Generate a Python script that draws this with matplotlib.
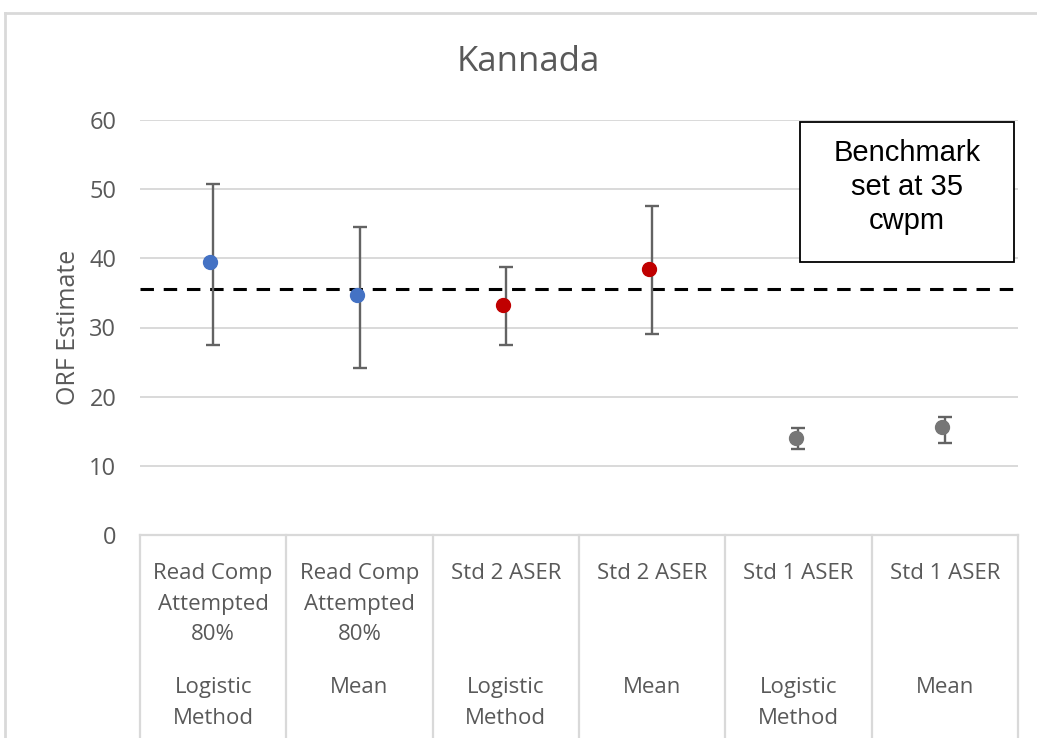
import numpy as np
import matplotlib
matplotlib.use("Agg")
import matplotlib.pyplot as plt
from matplotlib.lines import Line2D
from matplotlib.patches import Rectangle
from matplotlib.transforms import blended_transform_factory

# data
level1 = ["Read Comp\nAttempted\n80%", "Read Comp\nAttempted\n80%",
          "Std 2 ASER", "Std 2 ASER", "Std 1 ASER", "Std 1 ASER"]
level2 = ["Logistic\nMethod", "Mean", "Logistic\nMethod", "Mean",
          "Logistic\nMethod", "Mean"]
estimate = [39.4, 34.7, 33.3, 38.5, 14.0, 15.6]
upper = [50.8, 44.6, 38.7, 47.5, 15.5, 17.1]
lower = [27.5, 24.1, 27.4, 29.1, 12.5, 13.3]
point_colors = ["#4472C4", "#4472C4", "#C00000", "#C00000", "#767676", "#767676"]
benchmark = 35.5

W, H = 1037, 738
fig = plt.figure(figsize=(W / 100, H / 100), dpi=100)
ax = fig.add_axes([140 / W, 1 - 535 / H, 878 / W, 415 / H])

font = "Open Sans"
txt_gray = "#595959"
grid_gray = "#D9D9D9"

x = np.arange(len(estimate))
est = np.array(estimate)
err = [est - np.array(lower), np.array(upper) - est]

ax.errorbar(x, est, yerr=err, fmt="none", ecolor="#636363", elinewidth=1.7,
            capsize=5.2, capthick=1.7, zorder=3)
for xi, yi, c in zip(x, est, point_colors):
    ax.plot(xi - 0.02, yi, "o", color=c, markersize=10, zorder=4)

ax.axhline(benchmark, color="black", lw=2.2, linestyle=(0, (4.4, 3.2)), zorder=2)

ax.set_xlim(-0.5, len(estimate) - 0.5)
ax.set_ylim(0, 60)
ax.set_yticks(range(0, 61, 10))
ax.yaxis.grid(True, color=grid_gray, lw=1.4)
ax.set_axisbelow(True)
ax.tick_params(axis="y", length=0, pad=17, labelsize=17, labelcolor=txt_gray)
ax.tick_params(axis="x", length=0, labelbottom=False)
for lab in ax.get_yticklabels():
    lab.set_fontfamily(font)
for s in ["top", "right", "left"]:
    ax.spines[s].set_visible(False)
ax.spines["bottom"].set_color(grid_gray)
ax.spines["bottom"].set_linewidth(1.6)

ax.set_ylabel("ORF Estimate", fontsize=18, color=txt_gray, family=font, labelpad=6)
# chart title is centred on the whole chart frame, not the plot area
fig.text(528 / W, 1 - 62 / H, "Kannada", ha="center", va="center", fontsize=25,
         color=txt_gray, family=font)

# multi-level category axis drawn as a table
tr = blended_transform_factory(ax.transData, fig.transFigure)
for b in np.arange(len(estimate) + 1) - 0.5:
    ax.add_line(Line2D([b, b], [1 - 535 / H, -0.05], transform=tr, color=grid_gray,
                       lw=1.6, clip_on=False))
for xi, t1, t2 in zip(x, level1, level2):
    ax.text(xi, 1 - 563 / H, t1, transform=tr, ha="center", va="top", fontsize=16,
            color=txt_gray, family=font, linespacing=1.6)
    ax.text(xi, 1 - 677 / H, t2, transform=tr, ha="center", va="top", fontsize=16,
            color=txt_gray, family=font, linespacing=1.6)

# benchmark note box
ax.add_patch(Rectangle((0.7517, 0.6578), 0.2437, 0.3373, transform=ax.transAxes,
                       fc="white", ec="black", lw=1.3, zorder=5))
ax.text(0.8736, 0.8386, "Benchmark\nset at 35\ncwpm", transform=ax.transAxes,
        ha="center", va="center", fontsize=21, family="Liberation Sans",
        linespacing=1.27, zorder=6)

# outer chart frame (cut by the image edge)
fig.add_artist(Line2D([5 / W, 1.0], [1 - 13 / H] * 2, transform=fig.transFigure,
                      color=grid_gray, lw=2))
fig.add_artist(Line2D([5 / W] * 2, [0, 1 - 13 / H], transform=fig.transFigure,
                      color=grid_gray, lw=2))

fig.savefig("out.png", dpi=100)
